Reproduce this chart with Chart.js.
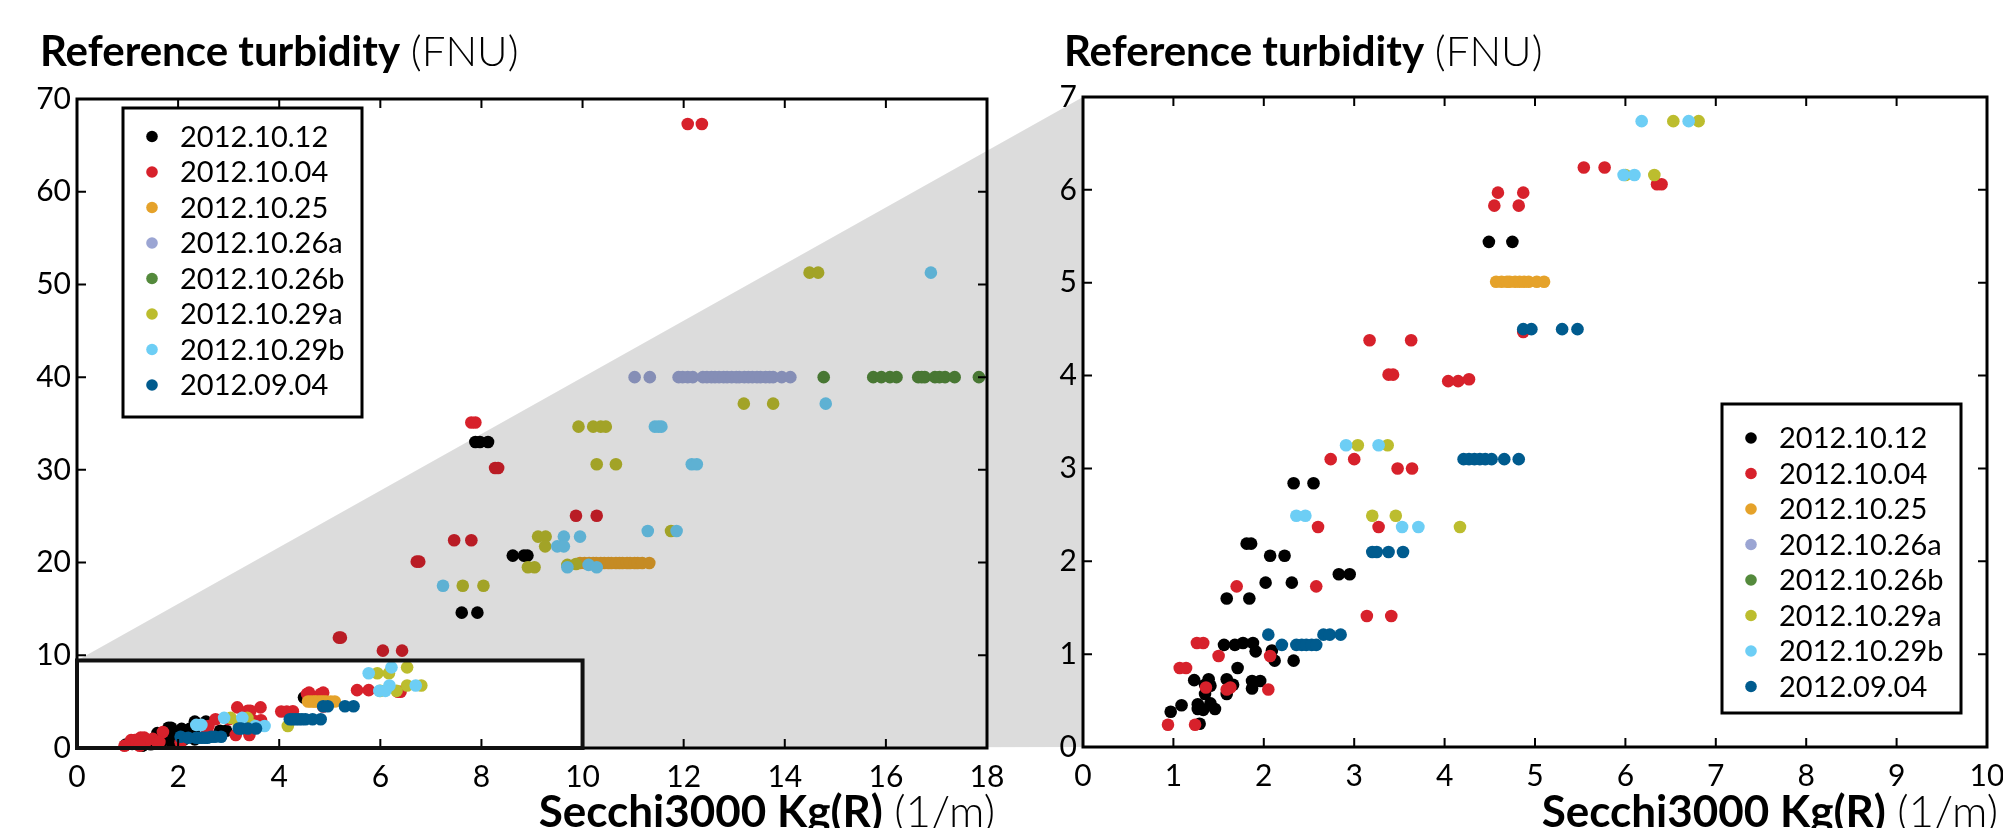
<!DOCTYPE html>
<html>
<head>
<meta charset="utf-8">
<script src="https://cdn.jsdelivr.net/npm/chart.js@4.4.1/dist/chart.umd.min.js"></script>
<style>
  html, body { margin:0; padding:0; background:#fff; }
  body { width:2003px; height:828px; position:relative; overflow:hidden; font-family: Lato, 'Open Sans', sans-serif; }
  canvas { position:absolute; left:0; top:0; }
  #overlay { pointer-events:none; }
  .ttl { position:absolute; font-size:42px; line-height:42px; white-space:nowrap; color:#000; }
  .xt { font-size:44px; line-height:44px; }
  .ttl b { font-weight:700; }
  .ttl span { font-weight:300; }
</style>
</head>
<body>
<canvas id="leftChart" width="2003" height="828"></canvas>
<canvas id="rightChart" width="2003" height="828"></canvas>
<canvas id="overlay" width="2003" height="828"></canvas>
<div class="ttl" id="tl1" style="left:40px; top:29px;"><b>Reference turbidity</b> <span>(FNU)</span></div>
<div class="ttl" id="tl2" style="left:1064px; top:29px;"><b>Reference turbidity</b> <span>(FNU)</span></div>
<div class="ttl xt" id="xl1" style="right:1008px; top:788px;"><b>Secchi3000 Kg(R)</b> <span>(1/m)</span></div>
<div class="ttl xt" id="xl2" style="right:5px; top:788px;"><b>Secchi3000 Kg(R)</b> <span>(1/m)</span></div>
<script>
// ---------------- DATA ----------------
const SERIES_LABELS = ['2012.10.12','2012.10.04','2012.10.25','2012.10.26a','2012.10.26b','2012.10.29a','2012.10.29b','2012.09.04'];
const SERIES_COLORS = ['#000000','#d7212b','#e5a22a','#9ba5d3','#548a3c','#bcbd2e','#6dcef5','#005b8e'];

const pts_2012_10_12 = [
  [7.88,33.0],[7.97,33.0],[8.13,33.0],
  [8.62,20.75],[8.84,20.75],[8.91,20.75],
  [7.61,14.6],[7.92,14.6],
  [4.49,5.44],[4.75,5.44],
  [2.33,2.84],[2.55,2.84],
  [1.81,2.19],[1.86,2.19],
  [2.07,2.06],[2.23,2.06],
  [2.83,1.86],[2.95,1.86],
  [2.02,1.77],[2.31,1.77],
  [1.59,1.60],[1.84,1.60],
  [1.56,1.10],[1.68,1.10],[1.77,1.12],[1.88,1.12],
  [1.91,1.03],[2.09,1.04],
  [2.12,0.93],[2.33,0.93],
  [1.71,0.85],
  [1.23,0.72],[1.39,0.73],[1.59,0.73],[1.87,0.71],[1.96,0.71],
  [1.35,0.67],[1.41,0.66],[1.66,0.67],[1.87,0.63],
  [1.35,0.57],[1.59,0.57],
  [1.27,0.46],[1.41,0.47],[1.46,0.41],
  [0.97,0.38],[1.09,0.45],[1.27,0.41],[1.33,0.40],
  [1.29,0.25]
];
const pts_2012_10_04 = [
  [12.08,67.3],[12.36,67.3],
  [7.80,35.1],[7.88,35.1],
  [8.27,30.2],[8.33,30.2],
  [9.87,25.05],[10.28,25.05],
  [7.46,22.4],[7.80,22.4],
  [6.72,20.1],[6.77,20.1],
  [5.18,11.9],[5.22,11.9],
  [6.05,10.5],[6.43,10.5],
  [5.54,6.24],[5.77,6.24],
  [6.35,6.06],[6.40,6.06],
  [4.59,5.97],[4.87,5.97],
  [4.55,5.83],[4.82,5.83],
  [4.87,4.47],
  [3.17,4.38],[3.63,4.38],
  [3.38,4.01],[3.43,4.01],
  [4.04,3.94],[4.15,3.94],[4.27,3.96],
  [2.74,3.10],[3.00,3.10],
  [3.48,3.00],[3.64,3.00],
  [2.60,2.37],[3.27,2.37],
  [1.70,1.73],[2.58,1.73],
  [3.14,1.41],[3.41,1.41],
  [1.26,1.12],[1.33,1.12],
  [1.50,0.98],[2.07,0.98],
  [1.07,0.85],[1.14,0.85],
  [1.36,0.64],[1.59,0.62],[1.63,0.64],[2.05,0.62],
  [0.94,0.24],[1.24,0.24]
];
const pts_2012_10_25 = [
  [9.95,19.95],[10.04,19.95],[10.13,19.95],[10.21,19.95],[10.27,19.95],[10.36,19.95],
  [10.43,19.95],[10.51,19.95],[10.57,19.95],[10.66,19.95],[10.73,19.95],[10.79,19.95],
  [10.88,19.95],[10.94,19.95],[11.03,19.95],[11.09,19.95],[11.18,19.95],[11.32,19.95],
  [4.57,5.01],[4.63,5.01],[4.69,5.01],[4.72,5.01],[4.78,5.01],[4.83,5.01],
  [4.88,5.01],[4.93,5.01],[5.02,5.01],[5.10,5.01]
];
const pts_2012_10_26a = [
  [11.03,40.0],[11.33,40.0],[11.90,40.0],[11.98,40.0],[12.08,40.0],[12.18,40.0],
  [12.38,40.0],[12.46,40.0],[12.55,40.0],[12.62,40.0],[12.70,40.0],[12.79,40.0],
  [12.86,40.0],[12.95,40.0],[13.04,40.0],[13.10,40.0],[13.20,40.0],[13.28,40.0],
  [13.36,40.0],[13.45,40.0],[13.52,40.0],[13.62,40.0],[13.70,40.0],[13.77,40.0],
  [13.94,40.0],[14.11,40.0]
];
const pts_2012_10_26b = [
  [14.77,40.0],[15.75,40.0],[15.91,40.0],[16.08,40.0],[16.21,40.0],
  [16.64,40.0],[16.71,40.0],[16.77,40.0],[16.97,40.0],[17.06,40.0],[17.17,40.0],[17.36,40.0],
  [17.84,40.0]
];
const pts_2012_10_29a = [
  [14.49,51.27],[14.66,51.27],
  [13.19,37.14],[13.77,37.14],
  [9.92,34.66],[10.21,34.66],[10.36,34.66],[10.46,34.66],
  [10.28,30.6],[10.66,30.6],
  [11.75,23.4],
  [9.12,22.8],[9.27,22.8],
  [9.26,21.75],
  [8.92,19.5],[9.05,19.5],
  [9.70,19.75],[9.87,19.85],
  [7.63,17.5],[8.04,17.5],
  [6.53,8.7],[5.94,8.06],[6.17,8.06],
  [6.53,6.74],[6.81,6.74],
  [6.00,6.16],[6.32,6.16],
  [3.04,3.25],[3.37,3.25],
  [3.20,2.49],[3.46,2.49],
  [4.17,2.37]
];
const pts_2012_10_29b = [
  [16.89,51.27],
  [14.81,37.14],
  [11.43,34.66],[11.50,34.66],[11.56,34.66],
  [12.16,30.6],[12.26,30.6],
  [11.29,23.4],[11.86,23.4],
  [9.63,22.8],[9.95,22.8],
  [9.50,21.75],[9.63,21.75],
  [9.70,19.5],[10.12,19.75],[10.28,19.5],
  [7.24,17.5],
  [6.22,8.7],[5.77,8.06],
  [6.18,6.74],[6.70,6.74],
  [5.98,6.16],[6.10,6.16],
  [2.91,3.25],[3.27,3.25],
  [2.36,2.49],[2.46,2.49],
  [3.53,2.37],[3.71,2.37]
];
const pts_2012_09_04 = [
  [4.87,4.50],[4.96,4.50],[5.30,4.50],[5.47,4.50],
  [4.21,3.10],[4.27,3.10],[4.33,3.10],[4.39,3.10],[4.45,3.10],[4.52,3.10],[4.66,3.10],[4.82,3.10],
  [3.20,2.10],[3.25,2.10],[3.38,2.10],[3.54,2.10],
  [2.05,1.21],[2.66,1.21],[2.73,1.21],[2.85,1.21],
  [2.20,1.10],[2.36,1.10],[2.42,1.10],[2.47,1.10],[2.53,1.10],[2.58,1.10]
];
const SERIES_POINTS = [pts_2012_10_12, pts_2012_10_04, pts_2012_10_25, pts_2012_10_26a,
                       pts_2012_10_26b, pts_2012_10_29a, pts_2012_10_29b, pts_2012_09_04];

const X_TICKS_LEFT  = [0,2,4,6,8,10,12,14,16,18];
const Y_TICKS_LEFT  = [0,10,20,30,40,50,60,70];
const X_TICKS_RIGHT = [0,1,2,3,4,5,6,7,8,9,10];
const Y_TICKS_RIGHT = [0,1,2,3,4,5,6,7];
// zoomed region marked on the left chart (data units)
const ZOOM_BOX_X = [0,10];
const ZOOM_BOX_Y = [0,9.44];

// ---------------- CHARTS ----------------
Chart.defaults.font.family = "Lato, 'Open Sans', sans-serif";
Chart.defaults.color = '#000';

function buildDatasets() {
  return SERIES_LABELS.map((lab, i) => ({
    label: lab,
    data: SERIES_POINTS[i].map(p => ({x: p[0], y: p[1]})),
    backgroundColor: SERIES_COLORS[i],
    borderWidth: 0,
    pointRadius: 6.3,
    pointHoverRadius: 6.3,
    order: SERIES_LABELS.length - i,
    clip: 8
  }));
}

const framePlugin = {
  id: 'frame',
  afterDraw(chart) {
    const {ctx, chartArea: a, scales: {x, y}} = chart;
    ctx.save();
    ctx.strokeStyle = '#000';
    ctx.lineWidth = 2;
    const TL = 9;
    ctx.beginPath();
    x.ticks.forEach(t => {
      const px = x.getPixelForValue(t.value);
      ctx.moveTo(px, a.bottom); ctx.lineTo(px, a.bottom - TL);
      ctx.moveTo(px, a.top); ctx.lineTo(px, a.top + TL);
    });
    y.ticks.forEach(t => {
      const py = y.getPixelForValue(t.value);
      ctx.moveTo(a.left, py); ctx.lineTo(a.left + TL, py);
      ctx.moveTo(a.right, py); ctx.lineTo(a.right - TL, py);
    });
    ctx.stroke();
    ctx.lineWidth = 3;
    ctx.strokeRect(a.left, a.top, a.right - a.left, a.bottom - a.top);
    ctx.restore();
  }
};

const boxLegendPlugin = {
  id: 'boxLegend',
  afterDraw(chart, args, opts) {
    const {ctx, chartArea: a} = chart;
    const w = 239, h = 309;
    const bx = opts.anchor === 'tl' ? a.left + 46 : a.right - 26 - w;
    const by = opts.anchor === 'tl' ? a.top + 9 : a.bottom - 34 - h;
    ctx.save();
    ctx.fillStyle = '#fff';
    ctx.fillRect(bx, by, w, h);
    ctx.strokeStyle = '#000';
    ctx.lineWidth = 3;
    ctx.strokeRect(bx, by, w, h);
    ctx.font = "29px Lato, 'Open Sans', sans-serif";
    ctx.textBaseline = 'middle';
    ctx.textAlign = 'left';
    chart.data.datasets.forEach((ds, i) => {
      const cy = by + opts.first + i * 35.5;
      ctx.fillStyle = ds.backgroundColor;
      ctx.beginPath();
      ctx.arc(bx + 29, cy, 5.8, 0, Math.PI * 2);
      ctx.fill();
      ctx.fillStyle = '#000';
      ctx.fillText(ds.label, bx + 57, cy + 1);
    });
    ctx.restore();
  }
};

function scaleOpts(ticksArr, min, max, isX) {
  return {
    type: 'linear',
    min: min, max: max,
    afterBuildTicks: s => { s.ticks = ticksArr.map(v => ({value: v})); },
    afterFit: s => {
      if (isX) { s.height = 70; s.paddingLeft = 0; s.paddingRight = 0; }
      else { s.width = 60; s.paddingTop = 0; s.paddingBottom = 0; }
    },
    grid: {display: false, drawTicks: false},
    border: {display: false},
    ticks: {
      font: {size: 30},
      color: '#000',
      padding: isX ? 11 : 6,
      maxRotation: 0,
      autoSkip: false
    }
  };
}

const leftChart = new Chart(document.getElementById('leftChart'), {
  type: 'scatter',
  data: {datasets: buildDatasets()},
  options: {
    responsive: false, animation: false, devicePixelRatio: 1,
    layout: {padding: {left: 17, right: 2003 - 987, top: 99, bottom: 10}},
    plugins: {legend: {display: false}, tooltip: {enabled: false},
              boxLegend: {anchor: 'tl', first: 28.5}},
    scales: {
      x: scaleOpts(X_TICKS_LEFT, 0, 18, true),
      y: scaleOpts(Y_TICKS_LEFT, 0, 70, false)
    }
  },
  plugins: [framePlugin, boxLegendPlugin]
});

const rightChart = new Chart(document.getElementById('rightChart'), {
  type: 'scatter',
  data: {datasets: buildDatasets()},
  options: {
    responsive: false, animation: false, devicePixelRatio: 1,
    layout: {padding: {left: 1083 - 60, right: 2003 - 1987, top: 97, bottom: 11}},
    plugins: {legend: {display: false}, tooltip: {enabled: false},
              boxLegend: {anchor: 'br', first: 34}},
    scales: {
      x: scaleOpts(X_TICKS_RIGHT, 0, 10, true),
      y: scaleOpts(Y_TICKS_RIGHT, 0, 7, false)
    }
  },
  plugins: [framePlugin, boxLegendPlugin]
});

// ---------------- ZOOM CONNECTOR (gray shading) ----------------
(function drawConnector() {
  const ctx = document.getElementById('overlay').getContext('2d');
  const lx = leftChart.scales.x, ly = leftChart.scales.y;
  const x0 = lx.getPixelForValue(ZOOM_BOX_X[0]);
  const x1 = lx.getPixelForValue(ZOOM_BOX_X[1]);
  const y0 = ly.getPixelForValue(ZOOM_BOX_Y[0]);
  const y1 = ly.getPixelForValue(ZOOM_BOX_Y[1]);
  const ra = rightChart.chartArea;
  ctx.save();
  ctx.fillStyle = 'rgba(0,0,0,0.137)';
  ctx.beginPath();
  ctx.moveTo(x0, y1);
  ctx.lineTo(ra.left, ra.top);
  ctx.lineTo(ra.left, ra.bottom);
  ctx.lineTo(x1, y0);
  ctx.lineTo(x1, y1);
  ctx.closePath();
  ctx.fill();
  ctx.strokeStyle = '#111';
  ctx.lineWidth = 4;
  ctx.strokeRect(x0, y1, x1 - x0, y0 - y1);
  ctx.restore();
})();
</script>
</body>
</html>
